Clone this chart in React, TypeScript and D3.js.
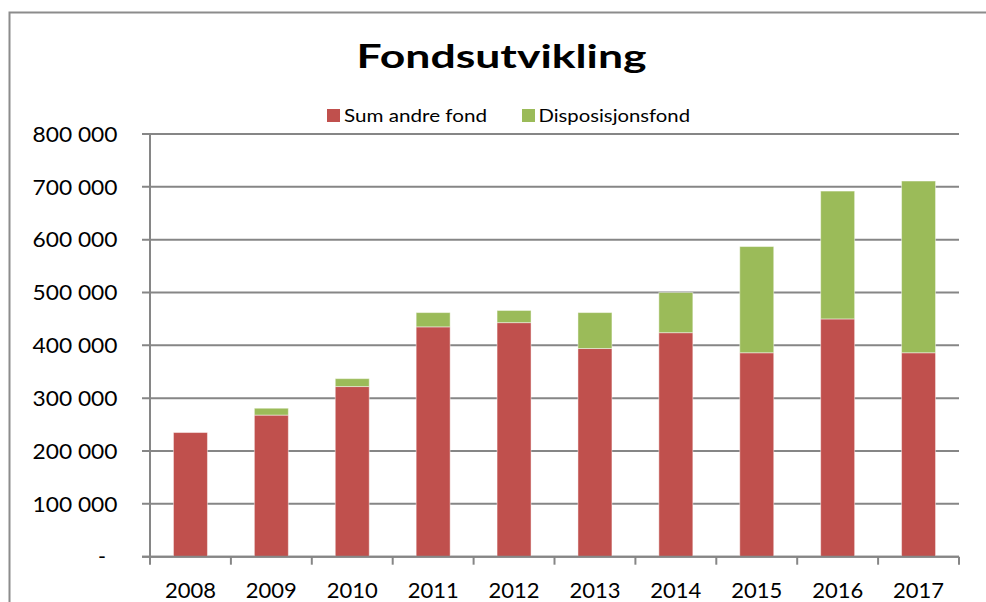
import React from "react";
import * as d3 from "d3";

const years = ["2008", "2009", "2010", "2011", "2012", "2013", "2014", "2015", "2016", "2017"];
const sumAndreFond = [235000, 268000, 322000, 435000, 443000, 394000, 424000, 386000, 450000, 386000];
const disposisjonsfond = [0, 13000, 15000, 27000, 23000, 68000, 76000, 201000, 242000, 325000];
const yTicks = [0, 100000, 200000, 300000, 400000, 500000, 600000, 700000, 800000];
const seriesNames = ["Sum andre fond", "Disposisjonsfond"];
const colors = ["#C0504D", "#9BBB59"];

const W = 986;
const H = 602;
const left = 150;
const right = 959;
const top = 134;
const bottom = 556.7;
const FONT = "Lato, 'Open Sans', sans-serif";
const GRID = "#868686";

export default function App() {
  const x = d3.scaleBand<string>().domain(years).range([left, right]).paddingInner(0.58).paddingOuter(0.29);
  const y = d3.scaleLinear().domain([0, 800000]).range([bottom, top]);
  const rows = years.map((yr, i) => ({ year: yr, a: sumAndreFond[i], b: disposisjonsfond[i] }));
  const stacked = d3.stack<any>().keys(["a", "b"])(rows);
  const step = x.step();
  const fmt = (v: number) => (v === 0 ? "-" : d3.format(",")(v).replace(/,/g, " "));

  return (
    <svg width={W} height={H} style={{ position: "absolute", left: 0, top: 0, background: "#fff" }}>
      <rect x={0} y={0} width={W} height={H} fill="#fff" />
      {/* outer chart border (top + left visible) */}
      <path d={`M9.5,${H} V12.5 H${W}`} fill="none" stroke="#8c8c8c" strokeWidth={2} />
      {/* title */}
      <text x={501.5} y={68} textAnchor="middle" fontFamily={FONT} fontWeight={700} fontSize={32.5} textLength={290} lengthAdjust="spacingAndGlyphs" fill="#000">
        Fondsutvikling
      </text>
      {/* legend */}
      <g fontFamily={FONT} fontSize={17.5} fill="#000">
        <rect x={327} y={109} width={13} height={13} fill={colors[0]} />
        <text x={344} y={121.7} textLength={143} lengthAdjust="spacingAndGlyphs">{seriesNames[0]}</text>
        <rect x={522} y={109} width={13} height={13} fill={colors[1]} />
        <text x={538.5} y={121.7} textLength={151.5} lengthAdjust="spacingAndGlyphs">{seriesNames[1]}</text>
      </g>
      {/* gridlines and y labels */}
      {yTicks.map((t) => (
        <g key={t}>
          <line x1={142} x2={right} y1={y(t)} y2={y(t)} stroke={GRID} strokeWidth={2} />
          {t === 0 ? (
            <text x={106} y={y(t) + 7.7} textAnchor="end" fontFamily={FONT} fontSize={21.5} fill="#000">
              {fmt(t)}
            </text>
          ) : (
            <text
              x={117.5}
              y={y(t) + 7.8}
              textAnchor="end"
              fontFamily={FONT}
              fontSize={22}
              textLength={85}
              lengthAdjust="spacingAndGlyphs"
              fill="#000"
            >
              {fmt(t)}
            </text>
          )}
        </g>
      ))}
      {/* bars */}
      {stacked.map((s, si) => (
        <g key={si} fill={colors[si]}>
          {s.map((d, i) =>
            d[1] - d[0] > 0 ? (
              <rect
                key={i}
                x={x(years[i])!}
                y={y(d[1])}
                width={x.bandwidth()}
                height={y(d[0]) - y(d[1])}
                stroke="#ffffff"
                strokeOpacity={0.45}
                strokeWidth={1}
              />
            ) : null
          )}
        </g>
      ))}
      {/* y axis line */}
      <line x1={left} x2={left} y1={top} y2={bottom + 8} stroke={GRID} strokeWidth={2} />
      {/* x axis */}
      <line x1={142} x2={right} y1={bottom} y2={bottom} stroke={GRID} strokeWidth={2} />
      {years.map((yr, i) => (
        <line key={"t" + yr} x1={left + step * (i + 1)} x2={left + step * (i + 1)} y1={bottom} y2={bottom + 8} stroke={GRID} strokeWidth={2} />
      ))}
      {years.map((yr) => (
        <text key={yr} x={x(yr)! + x.bandwidth() / 2} y={598} textAnchor="middle" fontFamily={FONT} fontSize={22} fill="#000">
          {yr}
        </text>
      ))}
    </svg>
  );
}
